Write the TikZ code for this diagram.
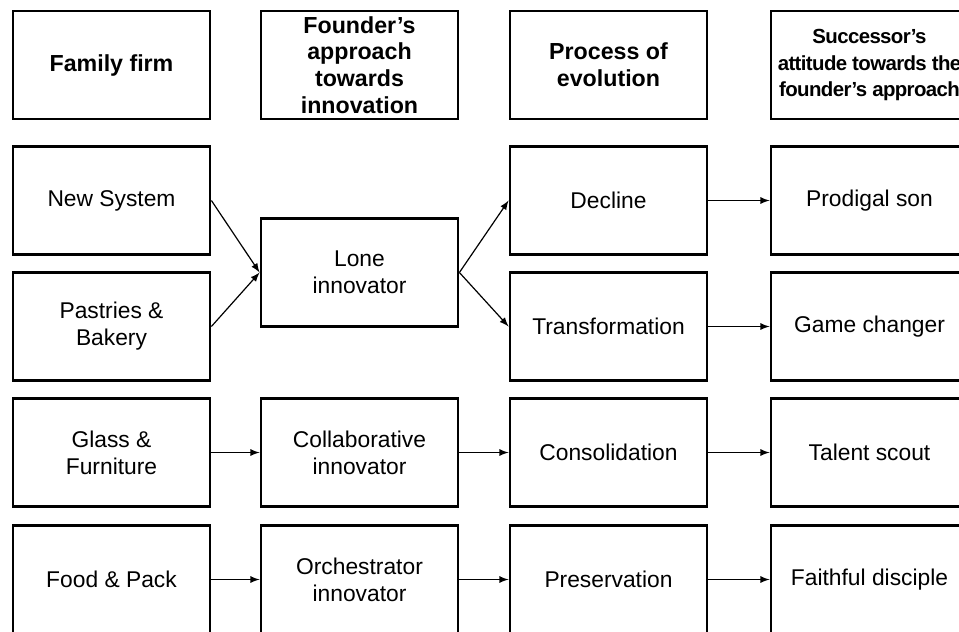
\documentclass[tikz,border=0pt]{standalone}
\usepackage{fontspec}
\setmainfont{Liberation Sans}
\usetikzlibrary{arrows}
\tikzset{>=latex}
\tikzset{box/.style={draw, line width=1.4pt, minimum width=98.5pt, minimum height=54pt,
    inner sep=0pt, align=center, font=\fontsize{11.4}{13.5}\selectfont},
  head/.style={box, font=\fontsize{11.6}{13.3}\selectfont\bfseries},
  link/.style={->, line width=0.6pt}}

\begin{document}
\begin{tikzpicture}[x=0.5pt, y=-0.5pt]
  \useasboundingbox (0, 0) rectangle (959, 632);
  % column headings
  \node[head] (h1) at (111.5, 65){Family firm};
  \node[head] (h2) at (359.5, 65){Founder’s\\approach\\towards\\innovation};
  \node[head] (h3) at (608.5, 65){Process of\\evolution};
  \node[head, font=\fontsize{10.2}{13.3}\selectfont\bfseries\addfontfeature{LetterSpace=-3}] (h4) at (869.5, 65){Successor’s\\attitude towards the\\founder’s approach};
  % family firms
  \node[box] (ns) at (111.5, 200.5){New System};
  \node[box] (pb) at (111.5, 326.5){Pastries \&\\Bakery};
  \node[box] (gf) at (111.5, 452.5){Glass \&\\Furniture};
  \node[box] (fp) at (111.5, 579.5){Food \& Pack};
  % founder's approach
  \node[box] (lone) at (359.5, 272.5){Lone\\innovator};
  \node[box] (col) at (359.5, 452.5){Collaborative\\innovator};
  \node[box] (orc) at (359.5, 579.5){Orchestrator\\innovator};
  % process of evolution
  \node[box] (dec) at (608.5, 200.5){Decline};
  \node[box] (tra) at (608.5, 326.5){Transformation};
  \node[box] (con) at (608.5, 452.5){Consolidation};
  \node[box] (pre) at (608.5, 579.5){Preservation};
  % successor's attitude
  \node[box] (ps) at (869.5, 200.5){Prodigal son};
  \node[box] (gc) at (869.5, 326.5){Game changer};
  \node[box] (ts) at (869.5, 452.5){Talent scout};
  \node[box] (fd) at (869.5, 579.5){Faithful disciple};
  % connectors
  \draw[link] (ns.east) -- (lone.west);
  \draw[link] (pb.east) -- (lone.west);
  \draw[link] (lone.east) -- (dec.west);
  \draw[link] (lone.east) -- (tra.west);
  \draw[link] (dec) -- (ps);
  \draw[link] (tra) -- (gc);
  \draw[link] (gf) -- (col);
  \draw[link] (col) -- (con);
  \draw[link] (con) -- (ts);
  \draw[link] (fp) -- (orc);
  \draw[link] (orc) -- (pre);
  \draw[link] (pre) -- (fd);
\end{tikzpicture}
\end{document}
